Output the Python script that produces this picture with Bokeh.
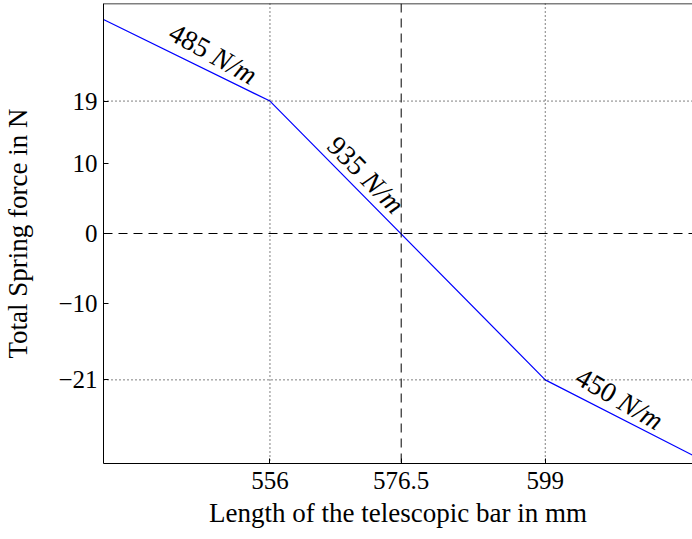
from bokeh.plotting import figure
from bokeh.models import Range1d, FixedTicker, Span, ColumnDataSource
from bokeh.core.properties import value
from bokeh.embed import file_html
from bokeh.resources import INLINE
import math

# ---- data ----
length_mm = [530, 556, 599, 622]
force_n = [30.7, 19, -21, -31.8]

x_ticks = [556, 576.5, 599]
x_tick_labels = ["556", "576.5", "599"]
y_ticks = [19, 10, 0, -10, -21]
y_tick_labels = ["19", "10", "0", "\u221210", "\u221221"]

dotted_x = [556, 599]
dotted_y = [19, -21]
dashed_x = [576.5]
dashed_y = [0]

rate_values = ["485", "935", "450"]
rate_unit = "N/m"
rate_x = [546.3, 570.3, 609.8]
rate_y = [26.2, 9.0, -23.3]
rate_angle_deg = [-29, -45, -30]

x_min, x_max = 530, 622
y_min, y_max = -33, 33

FONT = "Liberation Serif"

p = figure(width=692, height=539,
           x_range=Range1d(x_min, x_max), y_range=Range1d(y_min, y_max),
           output_backend="svg", toolbar_location=None,
           min_border_left=103, min_border_right=0,
           min_border_top=3, min_border_bottom=76)
p.xgrid.visible = False
p.ygrid.visible = False
p.background_fill_color = "white"
p.border_fill_color = "white"
p.outline_line_color = None

# axes
p.xaxis.ticker = FixedTicker(ticks=x_ticks)
p.xaxis.major_label_overrides = {t: l for t, l in zip(x_ticks, x_tick_labels)}
p.yaxis.ticker = FixedTicker(ticks=y_ticks)
p.yaxis.major_label_overrides = {t: l for t, l in zip(y_ticks, y_tick_labels)}
for ax in (p.xaxis[0], p.yaxis[0]):
    ax.major_tick_in = 5
    ax.major_tick_out = 0
    ax.minor_tick_line_color = None
    ax.axis_line_color = "black"
    ax.major_tick_line_color = "black"
    ax.major_label_text_font = FONT
    ax.major_label_text_font_size = "25px"
    ax.major_label_text_color = "black"
    ax.axis_label_text_font = FONT
    ax.axis_label_text_font_size = "27px"
    ax.axis_label_text_font_style = "normal"
    ax.axis_label_text_color = "black"
p.xaxis.axis_label = "Length of the telescopic bar in mm"
p.yaxis.axis_label = "Total Spring force in N"
p.xaxis.major_label_standoff = 8
p.xaxis.axis_label_standoff = 6
p.yaxis.major_label_standoff = 6
p.yaxis.axis_label_standoff = 22

# top border of the box
p.add_layout(Span(location=y_max, dimension="width", line_color="black", line_width=1.5))

# reference lines
for xv in dotted_x:
    p.add_layout(Span(location=xv, dimension="height", line_color="black",
                      line_dash="1 3", line_width=1))
for yv in dotted_y:
    p.add_layout(Span(location=yv, dimension="width", line_color="black",
                      line_dash="1 3", line_width=1))
for xv in dashed_x:
    p.add_layout(Span(location=xv, dimension="height", line_color="black",
                      line_dash="9 6", line_width=1))
for yv in dashed_y:
    p.add_layout(Span(location=yv, dimension="width", line_color="black",
                      line_dash="9 6", line_width=1))

# force curve
p.line(length_mm, force_n, line_color="#0000ff", line_width=1.2)

# spring-rate labels
src = ColumnDataSource(dict(
    x=rate_x, y=rate_y,
    num=rate_values,
    unit=["\u00a0" + rate_unit] * len(rate_values),
    ang=[math.radians(a) for a in rate_angle_deg],
))
p.text(x="x", y="y", text="num", angle="ang", source=src,
       text_align="right", text_baseline="alphabetic",
       text_font=value(FONT), text_font_size="28px", text_color="black")
p.text(x="x", y="y", text="unit", angle="ang", source=src,
       text_align="left", text_baseline="alphabetic",
       text_font=value(FONT), text_font_size="28px", text_font_style="italic",
       text_color="black")

open("out.html", "w").write(file_html(p, INLINE))
